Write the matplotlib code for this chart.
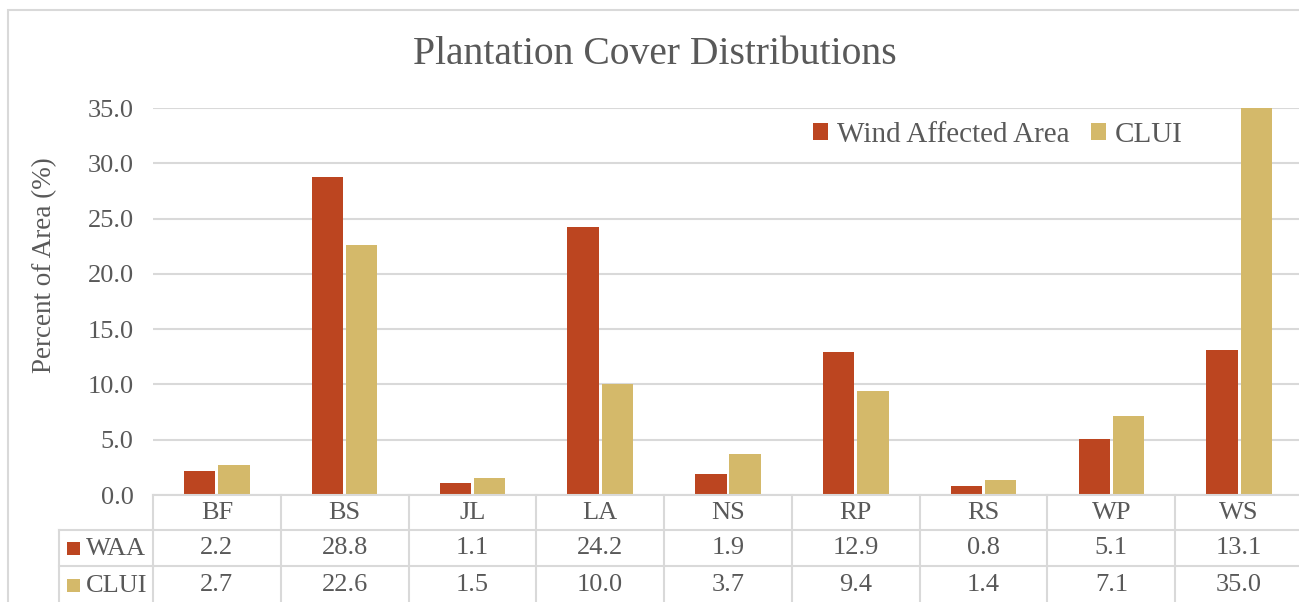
import matplotlib
matplotlib.use('Agg')
import matplotlib.pyplot as plt
from matplotlib.patches import Patch, Rectangle
from matplotlib.lines import Line2D
from matplotlib.transforms import blended_transform_factory
import numpy as np

# Plantation cover shares (percent of area)
species = ['BF', 'BS', 'JL', 'LA', 'NS', 'RP', 'RS', 'WP', 'WS']
waa = [2.2, 28.8, 1.1, 24.2, 1.9, 12.9, 0.8, 5.1, 13.1]
clui = [2.7, 22.6, 1.5, 10.0, 3.7, 9.4, 1.4, 7.1, 35.0]

W, H = 1299, 602
waa_color = '#BC4520'
clui_color = '#D4B96A'
grid_color = '#D9D9D9'
text_color = '#595959'

plt.rcParams['font.family'] = ['Liberation Serif', 'DejaVu Serif']
plt.rcParams['text.color'] = text_color

fig = plt.figure(figsize=(W / 100, H / 100), dpi=100)

def fx(px):
    return px / W

def fy(py):
    return 1 - py / H

# outer chart border
fig.add_artist(Rectangle((fx(8), fy(640)), fx(1400), fy(10) - fy(640),
                         transform=fig.transFigure, fill=False,
                         edgecolor=grid_color, linewidth=1.5))

left, right, top, bottom = 153, 1303, 108, 495
ax = fig.add_axes([fx(left), fy(bottom), fx(right) - fx(left), fy(top) - fy(bottom)])

x = np.arange(len(species))
bw = 0.245
off = 0.134
ax.bar(x - off, waa, bw, color=waa_color, zorder=3)
ax.bar(x + off, clui, bw, color=clui_color, zorder=3)

ax.set_xlim(-0.5, len(species) - 0.5)
ax.set_ylim(0, 35)
ax.set_yticks(np.arange(0, 36, 5))
ax.set_yticklabels([f'{v:.1f}' for v in np.arange(0, 36, 5)])
ax.set_xticks([])
ax.tick_params(axis='y', length=0, pad=14, labelsize=19, labelcolor=text_color)
ax.grid(axis='y', color=grid_color, linewidth=1.5, zorder=0)
for s in ax.spines.values():
    s.set_visible(False)

fig.text(fx(45), fy(265), 'Percent of Area (%)', rotation=90, ha='center', va='center',
         fontsize=19.5)

fig.text(fx(655), fy(55), 'Plantation Cover Distributions', ha='center', va='center',
         fontsize=28.5)

handles = [Patch(facecolor=waa_color, label='Wind Affected Area'),
           Patch(facecolor=clui_color, label='CLUI')]
ax.legend(handles=handles, loc='center', bbox_to_anchor=(fx(998), fy(135)),
          bbox_transform=fig.transFigure, ncol=2, frameon=False, fontsize=21,
          handlelength=0.5, handleheight=0.5, handletextpad=0.3, columnspacing=0.75,
          labelcolor=text_color)

# data table beneath the plot
tr = blended_transform_factory(ax.transData, fig.transFigure)
row_y = [495, 530, 566, 640]
lw = 1.5

def hline(x0, x1, py, trans):
    fig.add_artist(Line2D([x0, x1], [fy(py), fy(py)], transform=trans,
                          color=grid_color, linewidth=lw, clip_on=False))

def vline(xv, py0, py1, trans):
    fig.add_artist(Line2D([xv, xv], [fy(py0), fy(py1)], transform=trans,
                          color=grid_color, linewidth=lw, clip_on=False))

hline(-0.5, len(species) - 0.5, row_y[0], tr)
for py in row_y[1:3]:
    hline(fx(59), fx(left), py, fig.transFigure)
    hline(-0.5, len(species) - 0.5, py, tr)
for i in range(len(species) + 1):
    vline(i - 0.5, row_y[0], row_y[3], tr)
vline(fx(59), row_y[1], row_y[3], fig.transFigure)

fs = 19
for i, name in enumerate(species):
    fig.text(i, fy(513), name, transform=tr, ha='center', va='center', fontsize=fs)
    fig.text(i, fy(548), f'{waa[i]:.1f}', transform=tr, ha='center', va='center', fontsize=fs)
    fig.text(i, fy(585), f'{clui[i]:.1f}', transform=tr, ha='center', va='center', fontsize=fs)

for py, lab, col in [(549, 'WAA', waa_color), (586, 'CLUI', clui_color)]:
    fig.add_artist(Rectangle((fx(67), fy(py + 6)), fx(13), fy(py - 7) - fy(py + 6),
                             transform=fig.transFigure, facecolor=col, edgecolor='none'))
    fig.text(fx(86), fy(py), lab, ha='left', va='center', fontsize=fs)

fig.savefig('out.png', dpi=100)
